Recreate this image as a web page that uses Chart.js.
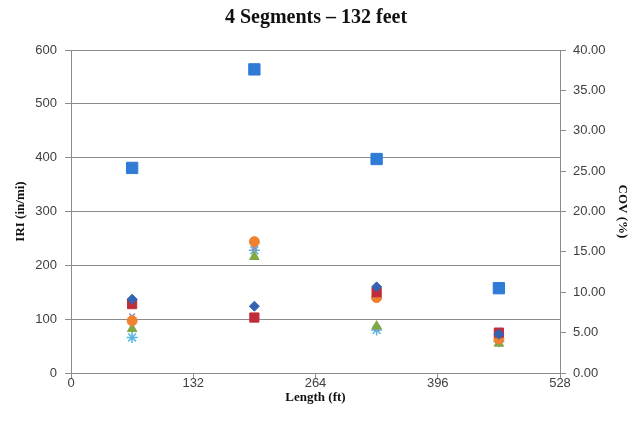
<!DOCTYPE html>
<html>
<head>
<meta charset="utf-8">
<script src="https://cdn.jsdelivr.net/npm/chart.js@4/dist/chart.umd.min.js"></script>
<style>
  html, body { margin: 0; padding: 0; background: #fff; }
  #wrap { width: 632px; height: 433px; }
</style>
</head>
<body>
<div id="wrap"><canvas id="chart" width="632" height="433"></canvas></div>
<script>
// Segment midpoints along the section (ft)
const lengths = [66, 198, 330, 462];

// IRI values per run (in/mi), left axis
const iriRun1 = [137, 124, 160, 72];
const iriRun2 = [128, 103, 150, 75];
const iriRun3 = [82, 216, 87, 55];
const iriRun4 = [105, 232, 84, 60];
const iriRun5 = [66, 228, 80, 58];
const iriRun6 = [97, 244, 140, 63];

// Coefficient of variation (%), right axis
const covValues = [25.4, 37.6, 26.5, 10.5];

const gridColor = '#8c8c8c';
const tickFont = { family: 'Liberation Sans', size: 13 };
const titleFont = { family: 'Liberation Serif', size: 13, weight: 'bold' };

// pair x positions with a series
function points(values) {
  return values.map((v, i) => ({ x: lengths[i], y: v }));
}

function series(values, style, color, radius, axis) {
  return {
    data: points(values),
    yAxisID: axis || 'y',
    pointStyle: style,
    pointRadius: radius,
    pointHoverRadius: radius,
    backgroundColor: color,
    borderColor: color,
    borderWidth: style === 'star' || style === 'crossRot' ? 1.5 : 1,
    showLine: false
  };
}

const datasets = [
  series(iriRun1, 'rectRot', '#3463b3', 5),
  series(iriRun2, 'rect', '#bf2d3a', 6.5),
  series(iriRun6, 'circle', '#f0812e', 5),
  series(iriRun3, 'triangle', '#80a843', 5.5),
  series(iriRun4, 'crossRot', '#9a88b8', 4),
  series(iriRun5, 'star', '#5ab5e2', 5.5),
  series(covValues, 'rect', '#2f7bd6', 8, 'y2')
];

const ctx = document.getElementById('chart').getContext('2d');
new Chart(ctx, {
  type: 'scatter',
  data: { datasets: datasets },
  options: {
    responsive: false,
    animation: false,
    devicePixelRatio: 1,
    layout: { padding: 0 },
    plugins: {
      legend: { display: false },
      tooltip: { enabled: false },
      title: {
        display: true,
        text: '4 Segments \u2013 132 feet',
        color: '#111',
        font: { family: 'Liberation Serif', size: 20, weight: 'bold' },
        padding: { top: 6, bottom: 20 }
      }
    },
    scales: {
      x: {
        type: 'linear',
        min: 0,
        max: 528,
        afterFit: s => { s.height = 60; },
        ticks: { stepSize: 132, color: '#404040', font: tickFont, padding: -2 },
        grid: { drawOnChartArea: false, color: gridColor, tickLength: 5 },
        border: { color: gridColor },
        title: { display: true, text: 'Length (ft)', color: '#111', font: titleFont, padding: { top: 0, bottom: 28 } }
      },
      y: {
        position: 'left',
        min: 0,
        max: 600,
        afterFit: s => { s.width = 71; },
        ticks: { stepSize: 100, color: '#404040', font: tickFont, padding: 8 },
        grid: { color: gridColor, tickLength: 6 },
        border: { color: gridColor },
        title: { display: true, text: 'IRI (in/mi)', color: '#111', font: titleFont, padding: { top: 13, bottom: 0 } }
      },
      y2: {
        position: 'right',
        min: 0,
        max: 40,
        afterFit: s => { s.width = 72; },
        ticks: { stepSize: 5, color: '#404040', font: tickFont, padding: 7, callback: v => v.toFixed(2) },
        grid: { drawOnChartArea: false, color: gridColor, tickLength: 6 },
        border: { color: gridColor },
        title: { display: true, text: 'COV (%)', color: '#111', font: titleFont, padding: { top: 2, bottom: 0 } }
      }
    }
  }
});
</script>
</body>
</html>
